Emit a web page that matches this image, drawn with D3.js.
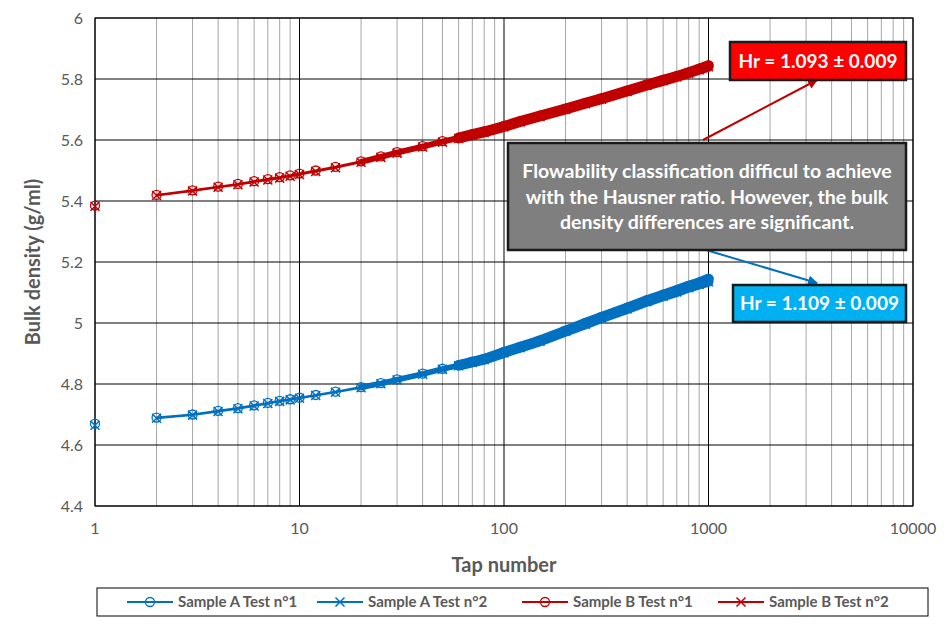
<!DOCTYPE html>
<html><head><meta charset="utf-8">
<script src="https://cdn.jsdelivr.net/npm/d3@7"></script>
<style>body{margin:0;background:#fff;font-family:Lato,"Open Sans",sans-serif}</style>
</head><body><svg id="c" width="950" height="625"></svg>
<script>
const taps = [1,2,3,4,5,6,7,8,9,10,12,15,20,25,30,40,50,60,70,80,100,120,150,200,250,300,400,500,600,700,800,900,1000];
const sampleA1 = [4.670,4.690,4.700,4.712,4.721,4.730,4.738,4.745,4.750,4.755,4.764,4.775,4.790,4.803,4.815,4.834,4.850,4.862,4.873,4.882,4.905,4.922,4.943,4.975,5.000,5.020,5.050,5.075,5.093,5.108,5.122,5.133,5.145];
const sampleA2 = [4.665,4.688,4.698,4.710,4.719,4.728,4.736,4.743,4.748,4.753,4.762,4.773,4.788,4.801,4.813,4.832,4.848,4.860,4.871,4.880,4.902,4.919,4.940,4.972,4.996,5.016,5.046,5.070,5.088,5.102,5.116,5.126,5.135];
const sampleB1 = [5.385,5.420,5.435,5.447,5.456,5.465,5.472,5.478,5.484,5.490,5.500,5.512,5.530,5.546,5.560,5.580,5.596,5.608,5.619,5.628,5.646,5.662,5.680,5.703,5.722,5.737,5.762,5.782,5.797,5.810,5.822,5.834,5.845];
const sampleB2 = [5.383,5.418,5.433,5.445,5.453,5.462,5.469,5.475,5.481,5.487,5.497,5.509,5.527,5.543,5.557,5.577,5.593,5.605,5.616,5.625,5.643,5.659,5.677,5.700,5.719,5.734,5.759,5.779,5.794,5.807,5.819,5.830,5.840];
const seriesNames = ["Sample A Test n°1","Sample A Test n°2","Sample B Test n°1","Sample B Test n°2"];
const xTicks = [1,10,100,1000,10000];
const yTicks = [4.4,4.6,4.8,5,5.2,5.4,5.6,5.8,6];

const svg = d3.select("#c");
const L=95,R=913,T=18,B=506;
const x = d3.scaleLog().domain([1,10000]).range([L,R]);
const y = d3.scaleLinear().domain([4.4,6]).range([B,T]);

const minor=[];
for(let d=1;d<10000;d*=10) for(let k=2;k<10;k++) minor.push(d*k);
svg.append("g").selectAll("line").data(minor).join("line")
 .attr("x1",d=>x(d)).attr("x2",d=>x(d)).attr("y1",T).attr("y2",B).attr("stroke","#a6a6a6").attr("stroke-width",1);
svg.append("g").selectAll("line").data(yTicks).join("line")
 .attr("x1",L).attr("x2",R).attr("y1",d=>y(d)).attr("y2",d=>y(d)).attr("stroke","#000").attr("stroke-width",1);
svg.append("g").selectAll("line").data(xTicks).join("line")
 .attr("x1",d=>x(d)).attr("x2",d=>x(d)).attr("y1",T).attr("y2",B).attr("stroke","#000").attr("stroke-width",1);
svg.append("rect").attr("x",L).attr("y",T).attr("width",R-L).attr("height",B-T).attr("fill","none").attr("stroke","#000");

const lab="#595959";
svg.append("g").selectAll("text").data(yTicks).join("text")
 .attr("x",L-12).attr("y",d=>y(d)+6).attr("text-anchor","end").attr("font-size",16).attr("fill",lab)
 .text(d=>d3.format("~g")(d));
svg.append("g").selectAll("text").data(xTicks).join("text")
 .attr("x",d=>x(d)).attr("y",B+28).attr("text-anchor","middle").attr("font-size",16).attr("fill",lab).text(d=>d);
svg.append("text").attr("x",(L+R)/2).attr("y",572).attr("text-anchor","middle").attr("font-size",20).attr("font-weight","bold").attr("fill",lab).text("Tap number");
svg.append("text").attr("transform",`translate(40,${(T+B)/2}) rotate(-90)`).attr("text-anchor","middle").attr("font-size",20).attr("font-weight","bold").attr("fill",lab).text("Bulk density (g/ml)");

const series=[
 {v:sampleA1,c:"#0070C0",m:"o"},{v:sampleA2,c:"#0070C0",m:"x"},
 {v:sampleB1,c:"#C00000",m:"o"},{v:sampleB2,c:"#C00000",m:"x"}];
const line=d3.line().x(d=>x(d[0])).y(d=>y(d[1]));
function marker(g,m,c,px,py){
 if(m==="o") g.append("circle").attr("cx",px).attr("cy",py).attr("r",4.5).attr("fill","none").attr("stroke",c).attr("stroke-width",1.3);
 else g.append("path").attr("d",`M${px-4.5},${py-4.5}L${px+4.5},${py+4.5}M${px-4.5},${py+4.5}L${px+4.5},${py-4.5}`).attr("stroke",c).attr("stroke-width",1.5);
}
series.forEach(s=>{
 const pts=taps.map((t,i)=>[t,s.v[i]]);
 svg.append("path").attr("d",line(pts.slice(1))).attr("fill","none").attr("stroke",s.c).attr("stroke-width",2);
 svg.append("path").attr("d",line(pts.filter(p=>p[0]>=20))).attr("fill","none").attr("stroke",s.c).attr("stroke-width",5).attr("stroke-linecap","round");
 svg.append("path").attr("d",line(pts.filter(p=>p[0]>=60))).attr("fill","none").attr("stroke",s.c).attr("stroke-width",10).attr("stroke-linecap","round");
 const g=svg.append("g");
 pts.forEach(p=>marker(g,s.m,s.c,x(p[0]),y(p[1])));
});

const defs=svg.append("defs");
[["ar","#C00000"],["ab","#0070C0"]].forEach(([id,c])=>{
 defs.append("marker").attr("id",id).attr("viewBox","0 0 10 10").attr("refX",9).attr("refY",5).attr("markerWidth",5).attr("markerHeight",5).attr("orient","auto")
 .append("path").attr("d","M0,0L10,5L0,10z").attr("fill",c);
});
svg.append("line").attr("x1",703).attr("y1",140).attr("x2",817).attr("y2",80).attr("stroke","#C00000").attr("stroke-width",2).attr("marker-end","url(#ar)");
svg.append("line").attr("x1",706).attr("y1",250).attr("x2",817).attr("y2",283).attr("stroke","#0070C0").attr("stroke-width",2).attr("marker-end","url(#ab)");

function box(x0,y0,w,h,fill,lines,fs){
 svg.append("rect").attr("x",x0).attr("y",y0).attr("width",w).attr("height",h).attr("fill",fill).attr("stroke","#1a1a1a").attr("stroke-width",2.5);
 lines.forEach((t,i)=>svg.append("text").attr("x",x0+w/2).attr("y",y0+h/2+fs*0.36+(i-(lines.length-1)/2)*fs*1.3)
  .attr("text-anchor","middle").attr("font-size",fs).attr("font-weight","bold").attr("fill","#fff").text(t));
}
box(730,42,176,38,"#FF0000",["Hr = 1.093 ± 0.009"],19);
box(733,285,173,37,"#00B0F0",["Hr = 1.109 ± 0.009"],19);
box(508,143,398,107,"#7F7F7F",["Flowability classification difficul to achieve","with the Hausner ratio. However, the bulk","density differences are significant."],19.5);

svg.append("rect").attr("x",97).attr("y",588).attr("width",831).attr("height",28).attr("fill","#fff").attr("stroke","#000");
const lx=[127,317,522,718];
seriesNames.forEach((n,i)=>{
 const s=series[i];
 svg.append("line").attr("x1",lx[i]).attr("x2",lx[i]+46).attr("y1",602).attr("y2",602).attr("stroke",s.c).attr("stroke-width",2);
 const g=svg.append("g"); marker(g,s.m,s.c,lx[i]+23,602);
 svg.append("text").attr("x",lx[i]+51).attr("y",607).attr("font-size",15).attr("font-weight","bold").attr("fill",lab).text(n);
});
</script></body></html>
